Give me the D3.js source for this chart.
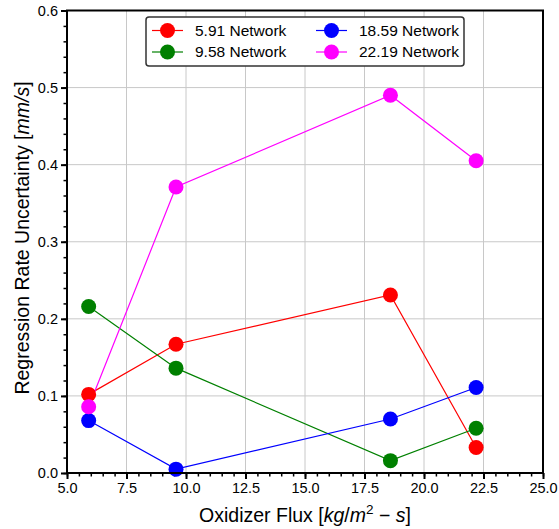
<!DOCTYPE html>
<html>
<head>
<meta charset="utf-8">
<script src="https://cdn.jsdelivr.net/npm/d3@7"></script>
<style>
  body { margin: 0; background: #fff; }
  svg { font-family: "Liberation Sans", Arial, sans-serif; }
  .grid line { stroke: #c8c8c8; stroke-width: 1; }
  .axis text { font-size: 14.5px; fill: #000; }
  .axis path, .axis line { stroke: #000; }
</style>
</head>
<body>
<svg id="chart" width="559" height="529"></svg>
<script>
// Data
const fluxes = [5.91, 9.58, 18.59, 22.19];
const seriesNames = ["5.91 Network", "9.58 Network", "18.59 Network", "22.19 Network"];
const seriesColors = ["#ff0000", "#008000", "#0000ff", "#ff00ff"];
const red = [0.102, 0.167, 0.231, 0.033];
const green = [0.216, 0.136, 0.016, 0.058];
const blue = [0.068, 0.005, 0.070, 0.111];
const magenta = [0.086, 0.371, 0.490, 0.405];
const seriesValues = [red, green, blue, magenta];
const xTicks = [5.0, 7.5, 10.0, 12.5, 15.0, 17.5, 20.0, 22.5, 25.0];
const yTicks = [0.0, 0.1, 0.2, 0.3, 0.4, 0.5, 0.6];

const svg = d3.select("#chart");
const margin = { top: 10.5, right: 16, bottom: 56, left: 67 };
const W = 559, H = 529;
const innerW = W - margin.left - margin.right;
const innerH = H - margin.top - margin.bottom;

const g = svg.append("g").attr("transform", `translate(${margin.left},${margin.top})`);

const x = d3.scaleLinear().domain([5, 25]).range([0, innerW]);
const y = d3.scaleLinear().domain([0, 0.6]).range([innerH, 0]);

/* ---------- grid ---------- */
const grid = g.append("g").attr("class", "grid");
grid.selectAll(".gx").data(xTicks.slice(1, -1)).join("line")
  .attr("x1", d => x(d)).attr("x2", d => x(d)).attr("y1", 0).attr("y2", innerH);
grid.selectAll(".gy").data(yTicks.slice(1, -1)).join("line")
  .attr("y1", d => y(d)).attr("y2", d => y(d)).attr("x1", 0).attr("x2", innerW);

/* ---------- axes ---------- */
const fmt = d3.format(".1f");
const xMinor = d3.range(5, 25.01, 0.5);
const yMinor = d3.range(0, 0.6001, 0.02);

g.append("g").attr("class", "axis")
  .attr("transform", `translate(0,${innerH})`)
  .call(d3.axisBottom(x).tickValues(xMinor).tickSize(3.5).tickFormat(""))
  .call(a => a.select(".domain").remove())
  .selectAll("line").attr("stroke-width", 1.5);
g.append("g").attr("class", "axis")
  .attr("transform", `translate(0,${innerH})`)
  .call(d3.axisBottom(x).tickValues(xTicks).tickSize(6).tickPadding(4).tickFormat(fmt))
  .call(a => a.select(".domain").remove())
  .call(a => a.selectAll("line").attr("stroke-width", 2));

g.append("g").attr("class", "axis")
  .call(d3.axisLeft(y).tickValues(yMinor).tickSize(3.5).tickFormat(""))
  .call(a => a.select(".domain").remove())
  .selectAll("line").attr("stroke-width", 1.5);
g.append("g").attr("class", "axis")
  .call(d3.axisLeft(y).tickValues(yTicks).tickSize(6).tickPadding(3).tickFormat(fmt))
  .call(a => a.select(".domain").remove())
  .call(a => a.selectAll("line").attr("stroke-width", 2));

/* ---------- series ---------- */
const lineGen = d3.line().x((d, i) => x(fluxes[i])).y(d => y(d));
seriesValues.forEach((vals, k) => {
  g.append("path").datum(vals)
    .attr("d", lineGen).attr("fill", "none")
    .attr("stroke", seriesColors[k]).attr("stroke-width", 1.2);
});
seriesValues.forEach((vals, k) => {
  g.selectAll(null).data(vals).join("circle")
    .attr("cx", (d, i) => x(fluxes[i])).attr("cy", d => y(d))
    .attr("r", 7.5).attr("fill", seriesColors[k]);
});

// frame
g.append("rect").attr("width", innerW).attr("height", innerH)
  .attr("fill", "none").attr("stroke", "#000").attr("stroke-width", 2);

/* ---------- legend ---------- */
const leg = svg.append("g").attr("transform", "translate(146,17)");
leg.append("rect").attr("width", 318).attr("height", 49).attr("rx", 3)
  .attr("fill", "#fff").attr("stroke", "#333").attr("stroke-width", 1.5);
seriesNames.forEach((name, k) => {
  const col = Math.floor(k / 2), row = k % 2;
  const ex = 6 + col * 164, ey = 13.5 + row * 21.5;
  const item = leg.append("g").attr("transform", `translate(${ex},${ey})`);
  item.append("line").attr("x1", 0).attr("x2", 31).attr("stroke", seriesColors[k]).attr("stroke-width", 1.2);
  item.append("circle").attr("cx", 15.5).attr("r", 7.5).attr("fill", seriesColors[k]);
  item.append("text").attr("x", 43).attr("dy", "0.35em").attr("font-size", 15.5).text(name);
});

/* ---------- axis labels ---------- */
const xl = svg.append("text").attr("x", margin.left + innerW / 2).attr("y", 522)
  .attr("text-anchor", "middle").attr("font-size", 19.5);
xl.append("tspan").text("Oxidizer Flux [");
xl.append("tspan").attr("font-style", "italic").text("kg");
xl.append("tspan").text("/");
xl.append("tspan").attr("font-style", "italic").text("m");
xl.append("tspan").attr("font-size", 13.5).attr("dy", -8).text("2");
xl.append("tspan").attr("dy", 8).text(" \u2212 ");
xl.append("tspan").attr("font-style", "italic").text("s");
xl.append("tspan").text("]");

const yl = svg.append("text")
  .attr("transform", `translate(29,238) rotate(-90)`)
  .attr("text-anchor", "middle").attr("font-size", 19.5);
yl.append("tspan").text("Regression Rate Uncertainty [");
yl.append("tspan").attr("font-style", "italic").text("mm/s");
yl.append("tspan").text("]");
</script>
</body>
</html>
